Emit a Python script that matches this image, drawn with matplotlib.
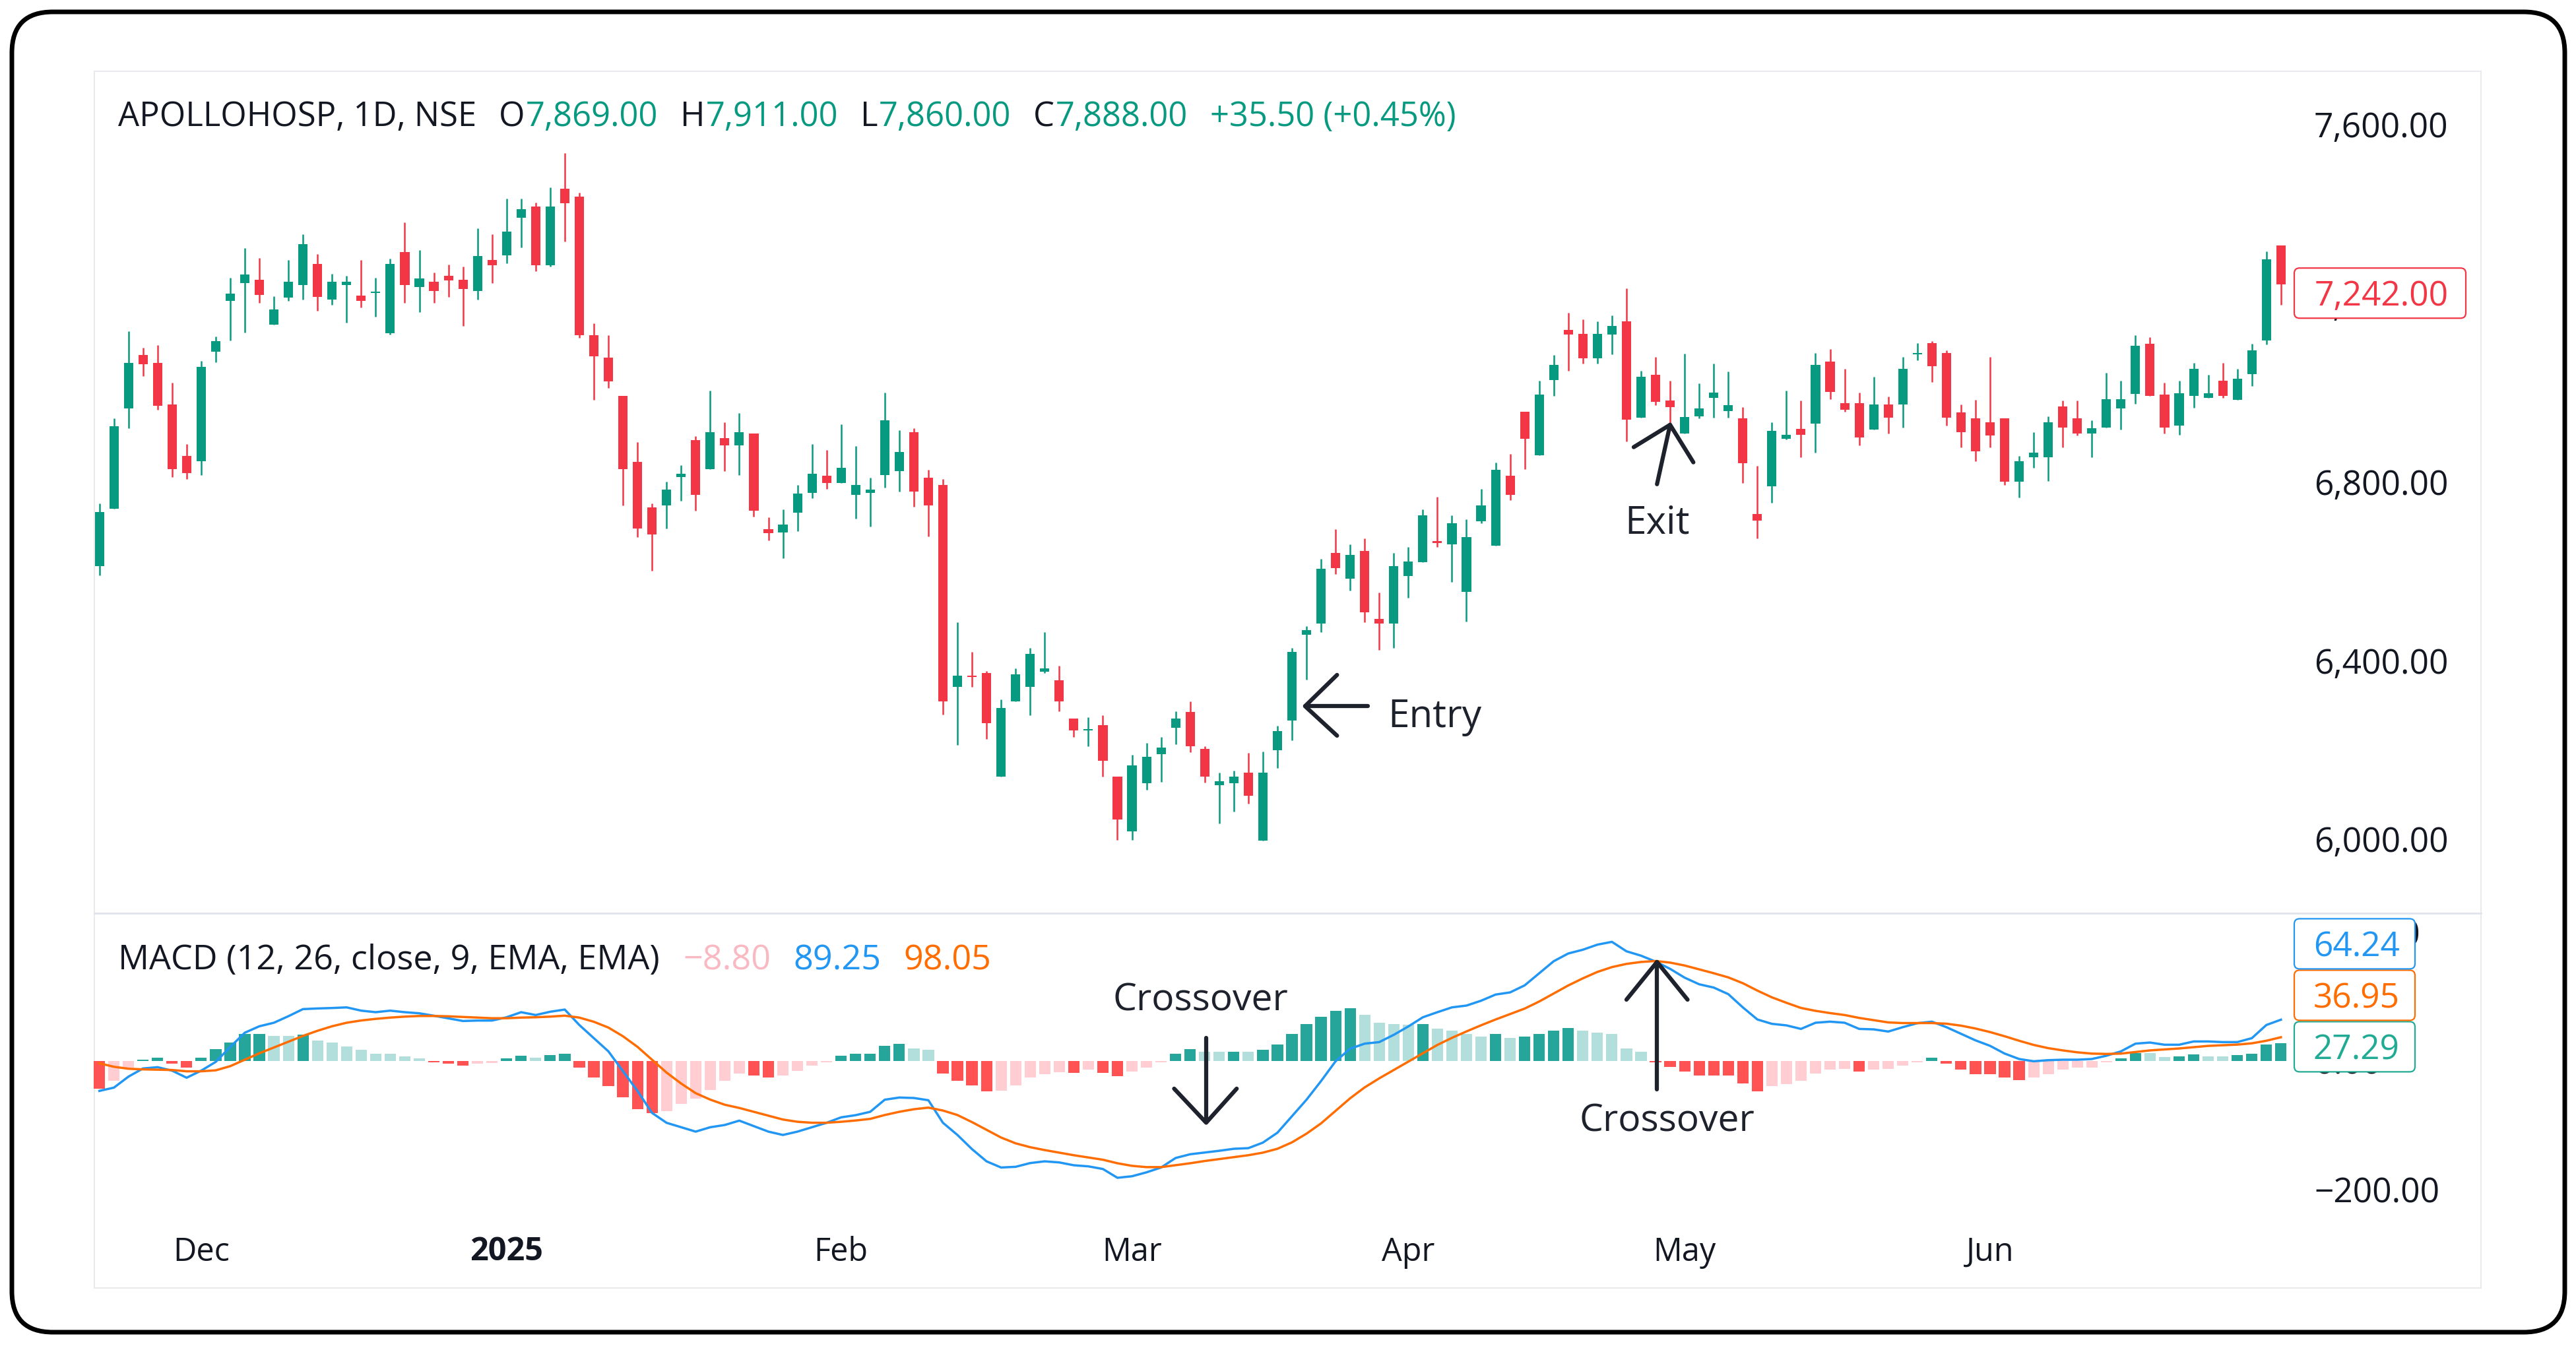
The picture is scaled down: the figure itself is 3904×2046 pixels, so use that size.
import matplotlib.pyplot as plt
from matplotlib.patches import FancyBboxPatch, Rectangle
from matplotlib.transforms import blended_transform_factory

plt.rcParams['font.family'] = ['Open Sans', 'DejaVu Sans']

# daily candles, 21 Nov 2024 .. 30 Jun 2025
opens = [6611, 6740, 6965, 7084, 7066, 6974, 6858, 6847, 7091, 7205,
         7246, 7252, 7152, 7213, 7241, 7288, 7209, 7241, 7217, 7223,
         7133, 7315, 7236, 7248, 7261, 7252, 7228, 7297, 7308, 7391,
         7417, 7285, 7456, 7439, 7129, 7079, 6992, 6845, 6743, 6748,
         6811, 6893, 6829, 6898, 6882, 6908, 6694, 6687, 6731, 6775,
         6814, 6797, 6771, 6776, 6816, 6824, 6911, 6809, 6793, 6341,
         6366, 6372, 6141, 6309, 6341, 6375, 6356, 6270, 6243, 6255,
         6140, 6018, 6125, 6191, 6249, 6285, 6202, 6121, 6125, 6149,
         5997, 6200, 6266, 6458, 6483, 6641, 6584, 6645, 6494, 6483,
         6590, 6621, 6668, 6661, 6554, 6712, 6657, 6814, 6957, 6860,
         7028, 7141, 7132, 7077, 7130, 7159, 6944, 7040, 6982, 6909,
         6947, 6988, 6959, 6942, 6729, 6790, 6897, 6919, 6930, 7070,
         6977, 6977, 6917, 6973, 6974, 7086, 7111, 7088, 6956, 6943,
         6934, 6943, 6801, 6856, 6855, 6969, 6943, 6908, 6922, 6965,
         6997, 7110, 6995, 6926, 6992, 6988, 7026, 6984, 7042, 7117,
         7329]
highs = [6752, 6943, 7137, 7101, 7107, 7022, 6885, 7071, 7125, 7257,
         7323, 7302, 7216, 7297, 7354, 7310, 7266, 7261, 7297, 7257,
         7300, 7381, 7319, 7269, 7287, 7282, 7368, 7354, 7434, 7434,
         7425, 7460, 7536, 7447, 7155, 7129, 6992, 6890, 6752, 6800,
         6837, 6903, 7005, 6934, 6955, 6908, 6721, 6738, 6793, 6885,
         6872, 6929, 6880, 6809, 7000, 6916, 6920, 6827, 6806, 6486,
         6420, 6376, 6313, 6382, 6428, 6464, 6389, 6270, 6273, 6277,
         6140, 6189, 6215, 6229, 6287, 6308, 6208, 6149, 6153, 6193,
         6196, 6254, 6428, 6477, 6628, 6695, 6660, 6673, 6552, 6641,
         6654, 6738, 6766, 6725, 6716, 6784, 6844, 6863, 6957, 7026,
         7085, 7179, 7164, 7159, 7173, 7234, 7049, 7080, 7026, 7087,
         7021, 7065, 7047, 6968, 6836, 6934, 7004, 6982, 7089, 7097,
         7053, 7000, 7036, 6991, 7080, 7111, 7115, 7094, 6974, 6984,
         7080, 6943, 6859, 6912, 6947, 6983, 6983, 6938, 7044, 7026,
         7128, 7124, 7022, 7026, 7066, 7040, 7066, 7053, 7110, 7316,
         7329]
lows = [6591, 6740, 6921, 7037, 6961, 6811, 6806, 6816, 7068, 7117,
        7134, 7201, 7152, 7205, 7209, 7184, 7196, 7157, 7191, 7170,
        7130, 7201, 7180, 7201, 7215, 7149, 7209, 7246, 7290, 7325,
        7272, 7282, 7338, 7122, 6984, 7010, 6748, 6677, 6601, 6696,
        6758, 6735, 6829, 6824, 6816, 6722, 6669, 6629, 6690, 6763,
        6784, 6797, 6718, 6700, 6788, 6779, 6744, 6678, 6279, 6211,
        6341, 6225, 6141, 6309, 6278, 6372, 6287, 6229, 6208, 6141,
        5998, 5998, 6111, 6129, 6213, 6195, 6127, 6036, 6062, 6080,
        5997, 6159, 6221, 6358, 6464, 6594, 6557, 6486, 6424, 6428,
        6541, 6621, 6655, 6576, 6488, 6708, 6657, 6759, 6829, 6860,
        6993, 7049, 7065, 7065, 7086, 6891, 6944, 6972, 6915, 6909,
        6943, 6944, 6944, 6797, 6674, 6753, 6895, 6855, 6865, 6985,
        6957, 6882, 6917, 6908, 6922, 7073, 7024, 6926, 6877, 6847,
        6877, 6793, 6765, 6832, 6802, 6877, 6904, 6856, 6922, 6917,
        6975, 6992, 6909, 6905, 6966, 6988, 6988, 6984, 7015, 7108,
        7196]
closes = [6733, 6925, 7066, 7063, 6971, 6829, 6820, 7058, 7116, 7222,
          7265, 7219, 7186, 7248, 7332, 7215, 7248, 7248, 7206, 7225,
          7288, 7241, 7256, 7228, 7251, 7232, 7306, 7285, 7360, 7411,
          7285, 7417, 7424, 7129, 7081, 7025, 6829, 6696, 6682, 6783,
          6819, 6771, 6911, 6882, 6911, 6735, 6686, 6704, 6774, 6819,
          6797, 6832, 6793, 6783, 6938, 6867, 6779, 6748, 6309, 6366,
          6363, 6260, 6294, 6370, 6415, 6382, 6309, 6243, 6247, 6176,
          6044, 6166, 6184, 6206, 6270, 6208, 6141, 6130, 6140, 6097,
          6149, 6242, 6420, 6468, 6606, 6607, 6636, 6508, 6483, 6611,
          6622, 6725, 6663, 6707, 6677, 6747, 6827, 6771, 6897, 6996,
          7062, 7130, 7077, 7132, 7150, 6940, 7036, 6979, 6967, 6946,
          6964, 7000, 6972, 6842, 6714, 6915, 6906, 6906, 7062, 7002,
          6961, 6900, 6974, 6944, 7053, 7088, 7059, 6944, 6912, 6868,
          6904, 6801, 6846, 6866, 6934, 6922, 6908, 6920, 6986, 6986,
          7105, 6992, 6922, 6999, 7053, 6999, 6992, 7031, 7094, 7298,
          7242]

# MACD (12, 26, 9) pane
macd_line = [-46.5, -41.4, -24.3, -11.6, -9.6, -15.0, -26.0, -15.0, -1.4, 21.9,
             44.0, 54.0, 59.5, 69.7, 80.7, 81.7, 82.4, 83.4, 78.3, 75.9,
             78.3, 75.9, 74.2, 70.4, 66.3, 62.2, 62.9, 62.9, 68.0, 75.9,
             71.5, 76.6, 80.0, 56.0, 35.5, 15.0, -15.8, -46.5, -80.7, -96.1,
             -103.0, -109.8, -103.0, -99.5, -92.7, -101.3, -109.8, -115.0, -109.8, -103.0,
             -96.1, -87.6, -84.2, -79.0, -60.2, -56.8, -57.5, -61.0, -96.0, -115.0,
             -137.0, -156.0, -165.6, -164.5, -158.7, -156.0, -157.7, -162.1, -163.8, -167.9,
             -181.6, -179.2, -173.1, -165.6, -150.8, -145.0, -142.3, -139.6, -136.5, -135.5,
             -126.9, -111.5, -85.9, -60.2, -31.2, -0.4, 19.1, 27.0, 29.4, 40.7,
             53.7, 68.0, 75.9, 83.4, 86.2, 93.7, 103.3, 106.7, 117.6, 136.4,
             155.2, 167.2, 173.0, 180.9, 185.3, 170.6, 163.8, 154.6, 143.3, 129.6,
             119.3, 114.2, 104.0, 83.4, 64.6, 57.8, 55.4, 49.9, 59.5, 61.2,
             59.5, 49.9, 49.2, 45.8, 52.6, 58.8, 61.2, 52.6, 42.4, 32.1,
             23.6, 11.6, 3.1, -0.4, 1.3, 2.0, 2.0, 3.1, 8.2, 15.0,
             27.0, 28.7, 25.3, 25.3, 30.4, 30.4, 29.4, 29.4, 35.5, 56.0,
             64.24]
signal_line = [-3.5, -9.0, -12.0, -13.0, -13.5, -14.0, -16.0, -16.0, -14.5, -8.0,
               2.0, 12.0, 21.0, 30.0, 39.0, 47.0, 54.0, 59.5, 63.0, 65.5,
               67.5, 69.0, 70.0, 70.0, 69.5, 68.5, 67.5, 66.5, 66.5, 67.5,
               68.0, 69.0, 70.5, 67.5, 61.0, 52.0, 38.5, 22.0, 2.0, -18.0,
               -35.0, -50.0, -60.0, -68.0, -73.0, -79.0, -85.0, -91.0, -94.5, -96.0,
               -96.0, -94.5, -92.5, -90.0, -84.0, -79.0, -75.0, -72.5, -77.0, -84.0,
               -95.0, -107.0, -119.0, -128.0, -134.0, -138.5, -142.5, -146.5, -150.0, -153.5,
               -159.0, -163.0, -165.0, -165.0, -162.0, -159.0, -155.5, -152.5, -149.5, -146.5,
               -142.5, -136.5, -126.5, -113.0, -97.0, -77.5, -58.0, -41.0, -27.0, -14.0,
               -1.0, 12.0, 25.0, 36.0, 46.0, 55.5, 64.5, 73.0, 81.5, 92.5,
               105.0, 117.5, 128.5, 138.5, 146.0, 151.0, 154.0, 155.5, 153.0, 148.5,
               142.5, 136.5, 130.0, 121.0, 109.5, 99.0, 90.5, 82.5, 78.0, 74.5,
               71.5, 67.0, 63.5, 60.0, 59.0, 59.0, 59.0, 58.0, 55.0, 50.5,
               45.0, 38.5, 31.5, 25.0, 20.0, 16.5, 13.5, 11.5, 11.0, 11.5,
               14.0, 16.5, 18.0, 19.5, 21.5, 23.5, 24.5, 25.5, 27.5, 31.5,
               36.95]
macd_hist = [-43, -31, -10.6, 2, 5, -4, -10.6, 5, 18, 29,
             42, 42.5, 39, 38.5, 41, 32, 29, 22.5, 17, 11.5,
             11, 7.5, 4, -2, -4, -7, -4, -3.5, 4, 8,
             5, 9, 11, -10.6, -26, -38.6, -56.8, -74.9, -80.7, -78,
             -67, -58.5, -44.8, -31, -19, -22.6, -26, -22.6, -15.7, -7,
             -2, 8, 11, 11.5, 24, 27, 20, 17, -19, -31,
             -38, -47, -46, -38, -26, -20, -17.5, -18, -13, -18.5,
             -23.5, -16, -10.6, -2, 11, 18, 14.5, 14, 14.8, 14,
             17, 26, 41.7, 57, 69, 78, 81.7, 71.5, 59.5, 57,
             56.8, 57.6, 50, 47.5, 41.7, 38.3, 41.7, 35.5, 38.3, 41.7,
             47.5, 51, 47.5, 44, 41.7, 20, 14.5, -2, -9.6, -16,
             -22.6, -22.6, -23, -34.6, -47, -39, -36, -31, -19, -13,
             -12.5, -16.5, -13, -12, -7, -2, 5, -4, -13, -20,
             -20.5, -26, -29.5, -26, -20, -13, -10.6, -10.4, -2, 4,
             12.3, 12, 6, 7, 10.5, 7, 6.8, 9, 11, 25.6,
             27.29]

month_ticks = [7, 28, 51, 71, 90, 109, 130]
month_labels = ['Dec', '2025', 'Feb', 'Mar', 'Apr', 'May', 'Jun']
price_ticks = [6000, 6400, 6800, 7200, 7600]
macd_ticks = [-200, 0, 200]

W, H = 3904, 2046
UP, DOWN, INK, PEN = '#089981', '#F23645', '#131722', '#1E222D'
BLUE, ORANGE = '#2196F3', '#FF6D00'

fig = plt.figure(figsize=(W / 100, H / 100), dpi=100)


def px_axes(x0, y0, x1, y1, z):
    a = fig.add_axes([x0 / W, 1 - y1 / H, (x1 - x0) / W, (y1 - y0) / H], zorder=z)
    a.axis('off')
    return a


def to_px(a, xv, yv):
    dx, dy = a.transData.transform((xv, yv))
    return dx, H - dy


bg = px_axes(0, 0, W, H, 0)
bg.set_xlim(0, W)
bg.set_ylim(H, 0)
top = px_axes(0, 0, W, H, 5)
top.set_xlim(0, W)
top.set_ylim(H, 0)

# frame, panel outline, pane divider
bg.add_patch(FancyBboxPatch((18, 18), 3869, 2001, boxstyle='round,pad=0,rounding_size=62',
                            fc='white', ec='black', lw=5))
bg.add_patch(Rectangle((143, 108), 3617, 1844, fill=False, ec='#E8EAEE', lw=1.5))
bg.plot([143, 3760], [1384, 1384], color='#E0E3EB', lw=2)

ax = px_axes(142, 107, 3474, 1383, 2)
axm = px_axes(142, 1385, 3474, 1855, 2)
for a in (ax, axm):
    a.set_xlim(-0.39, 150.78)
ax.set_ylim(5836, 7721)
axm.set_ylim(-253.4, 228.8)

# candles
xs = list(range(len(closes)))
ccol = [UP if c >= o else DOWN for o, c in zip(opens, closes)]
ax.vlines(xs, lows, highs, colors=ccol, lw=1.8)
ax.bar(xs, [max(abs(c - o), 3) for o, c in zip(opens, closes)],
       bottom=[min(o, c) for o, c in zip(opens, closes)], width=0.64, color=ccol, lw=0)

# macd histogram + lines
hcol = []
prev = None
for h in macd_hist:
    if h >= 0:
        hcol.append('#26A69A' if prev is None or prev < h else '#B2DFDB')
    else:
        hcol.append('#FFCDD2' if prev is not None and prev < h else '#FF5252')
    prev = h
axm.bar(xs, macd_hist, width=0.78, color=hcol, lw=0)
axm.plot(xs, macd_line, color=BLUE, lw=2.5)
axm.plot(xs, signal_line, color=ORANGE, lw=2.5)

# price scale labels
lab_x = (3507 - 142) / (3474 - 142)
for a, ticks in ((ax, price_ticks), (axm, macd_ticks)):
    tr = blended_transform_factory(a.transAxes, a.transData)
    for v in ticks:
        a.text(lab_x, v, f'{v:,.2f}'.replace('-', '\u2212'), transform=tr, ha='left',
               va='center_baseline', fontsize=37, color=INK, clip_on=False)

# last price tag (covers the 7,200.00 scale label like the original)
_, yc = to_px(ax, 0, closes[-1])
yc += 12
top.add_patch(FancyBboxPatch((3477, yc - 37), 260, 76, boxstyle='round,pad=0,rounding_size=8',
                             fc='white', ec=DOWN, lw=1.6))
top.text(3508, yc, f'{closes[-1]:,.2f}', color=DOWN, fontsize=37, ha='left', va='center_baseline')

# macd value tags, stacked upward from the histogram value
_, yh = to_px(axm, 0, macd_hist[-1])
yh += 5
tags = [(macd_hist[-1], '#22AB94'), (signal_line[-1], ORANGE), (macd_line[-1], BLUE)]
for k, (val, col) in enumerate(tags):
    yk = yh - k * 78
    top.add_patch(FancyBboxPatch((3477, yk - 38), 183, 76, boxstyle='round,pad=0,rounding_size=8',
                                 fc='white', ec=col, lw=1.6))
    top.text(3506, yk, f'{val:.2f}', color=col, fontsize=37, ha='left', va='center_baseline')

# time axis
tt = blended_transform_factory(axm.transData, fig.transFigure)
for i, lab in zip(month_ticks, month_labels):
    axm.text(i, 1 - 1892 / H, lab, transform=tt, ha='center', va='center_baseline', fontsize=35,
             color=INK, fontweight='bold' if lab.isdigit() else 'normal', clip_on=False)


def flow(x, y, parts, size):
    r = fig.canvas.get_renderer()
    for s, col, gap in parts:
        t = bg.text(x, y, s, color=col, fontsize=size, ha='left', va='baseline')
        x += t.get_window_extent(r).width + gap


flow(179, 191, [('APOLLOHOSP, 1D, NSE', INK, 34), ('O', INK, 1), ('7,869.00', UP, 34),
                ('H', INK, 1), ('7,911.00', UP, 34), ('L', INK, 1), ('7,860.00', UP, 34),
                ('C', INK, 1), ('7,888.00', UP, 34), ('+35.50 (+0.45%)', UP, 0)], 36.5)
flow(179, 1469, [('MACD (12, 26, close, 9, EMA, EMA)', INK, 36), ('\u22128.80', '#F9B9C2', 34),
                 ('89.25', BLUE, 34), ('98.05', ORANGE, 0)], 37.5)


# hand-drawn style annotations
def stroke(a, pts):
    a.plot([p[0] for p in pts], [p[1] for p in pts], color=PEN, lw=4.5, solid_capstyle='round',
           solid_joinstyle='round', zorder=6, clip_on=False)


stroke(ax, [(87.2, 6298), (82.9, 6298)])
stroke(ax, [(85.1, 6368), (82.9, 6298), (85.1, 6232)])
ax.text(88.6, 6284, 'Entry', fontsize=42, color=PEN, ha='left', va='center_baseline', zorder=6)
stroke(ax, [(107.1, 6795), (108.0, 6928)])
stroke(ax, [(105.5, 6878), (108.0, 6928), (109.6, 6844)])
ax.text(107.1, 6717, 'Exit', fontsize=42, color=PEN, ha='center', va='center_baseline', zorder=6)

axm.text(75.7, 100.5, 'Crossover', fontsize=41, color=PEN, ha='center', va='center_baseline', zorder=6)
stroke(axm, [(76.1, 36.2), (76.1, -95.9)])
stroke(axm, [(73.9, -43), (76.1, -95.9), (78.2, -43)])
stroke(axm, [(107.1, -44.6), (107.1, 154)])
stroke(axm, [(105.0, 95.4), (107.1, 154), (109.2, 95.4)])
axm.text(107.8, -87.2, 'Crossover', fontsize=41, color=PEN, ha='center', va='center_baseline', zorder=6)

fig.savefig('out.png', dpi=100, facecolor='white')
